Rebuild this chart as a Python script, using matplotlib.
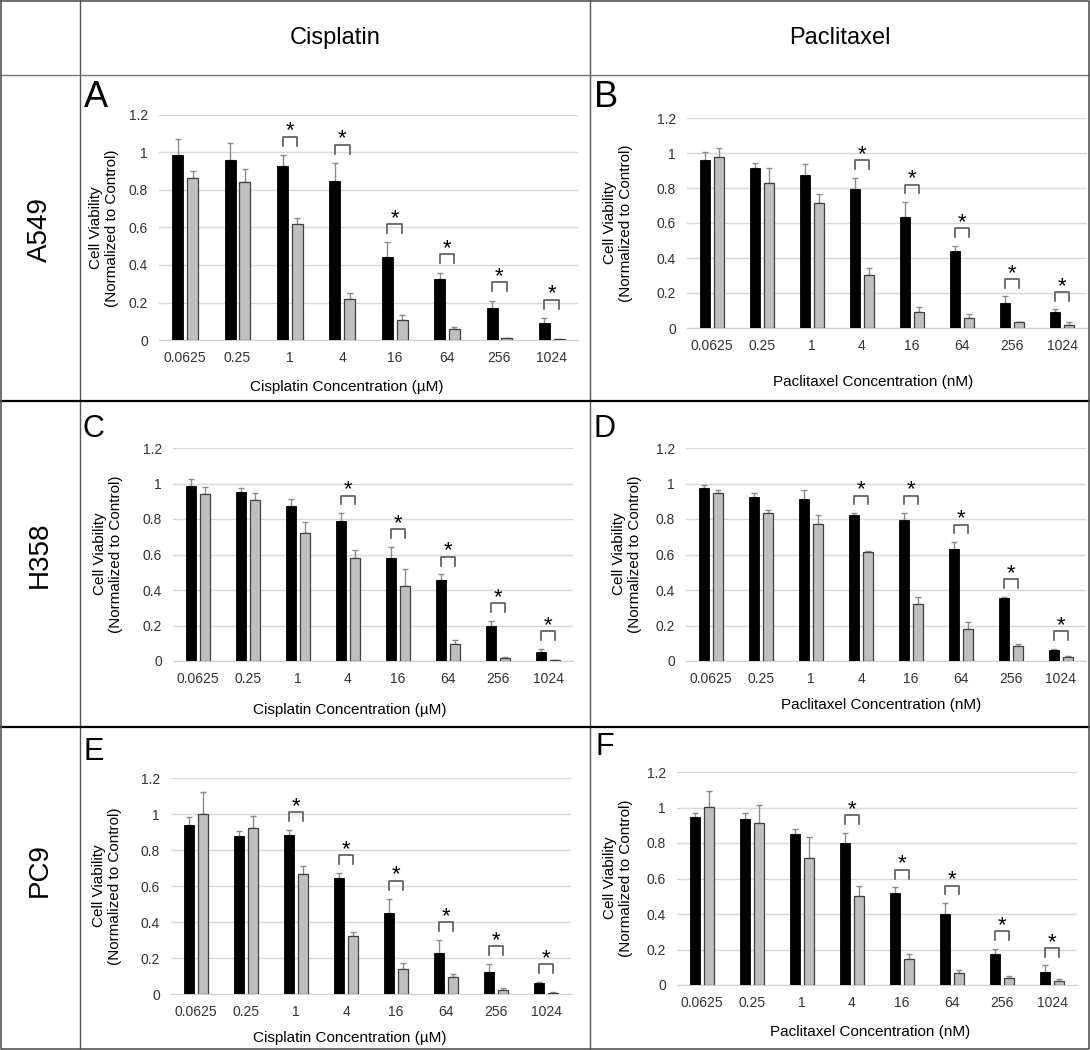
import numpy as np
import matplotlib
matplotlib.use('Agg')
import matplotlib.pyplot as plt

plt.rcParams['font.family'] = ['Liberation Sans', 'DejaVu Sans']

# концентрации
conc = ['0.0625', '0.25', '1', '4', '16', '64', '256', '1024']
ytick_labels = ['0', '0.2', '0.4', '0.6', '0.8', '1', '1.2']

# A549 - cisplatin (A)
a_black = [0.987, 0.96, 0.928, 0.85, 0.444, 0.325, 0.172, 0.092]
a_black_sd = [0.083, 0.09, 0.057, 0.092, 0.076, 0.035, 0.038, 0.024]
a_grey = [0.862, 0.84, 0.617, 0.217, 0.107, 0.057, 0.009, 0.004]
a_grey_sd = [0.038, 0.07, 0.033, 0.032, 0.026, 0.011, 0.003, 0.001]
a_sig = [2, 3, 4, 5, 6, 7]

# A549 - paclitaxel (B)
b_black = [0.96, 0.914, 0.874, 0.796, 0.632, 0.442, 0.145, 0.09]
b_black_sd = [0.047, 0.031, 0.061, 0.063, 0.088, 0.028, 0.036, 0.017]
b_grey = [0.979, 0.83, 0.716, 0.303, 0.09, 0.055, 0.032, 0.015]
b_grey_sd = [0.048, 0.086, 0.048, 0.038, 0.032, 0.023, 0.004, 0.017]
b_sig = [3, 4, 5, 6, 7]

# H358 - cisplatin (C)
c_black = [0.988, 0.954, 0.875, 0.787, 0.582, 0.455, 0.199, 0.052]
c_black_sd = [0.039, 0.019, 0.036, 0.045, 0.062, 0.033, 0.025, 0.016]
c_grey = [0.939, 0.907, 0.723, 0.582, 0.425, 0.096, 0.017, 0.004]
c_grey_sd = [0.039, 0.038, 0.058, 0.043, 0.091, 0.022, 0.003, 0.001]
c_sig = [3, 4, 5, 6, 7]

# H358 - paclitaxel (D)
d_black = [0.973, 0.925, 0.914, 0.822, 0.792, 0.631, 0.353, 0.062]
d_black_sd = [0.019, 0.02, 0.049, 0.01, 0.04, 0.038, 0.009, 0.008]
d_grey = [0.945, 0.832, 0.772, 0.612, 0.323, 0.18, 0.086, 0.02]
d_grey_sd = [0.018, 0.019, 0.05, 0.009, 0.039, 0.038, 0.007, 0.01]
d_sig = [3, 4, 5, 6, 7]

# PC9 - cisplatin (E)
e_black = [0.939, 0.878, 0.881, 0.643, 0.448, 0.23, 0.12, 0.06]
e_black_sd = [0.042, 0.028, 0.03, 0.027, 0.082, 0.07, 0.045, 0.008]
e_grey = [0.998, 0.924, 0.665, 0.32, 0.14, 0.095, 0.025, 0.008]
e_grey_sd = [0.126, 0.065, 0.046, 0.025, 0.03, 0.015, 0.006, 0.003]
e_sig = [2, 3, 4, 5, 6, 7]

# PC9 - paclitaxel (F)
f_black = [0.948, 0.934, 0.851, 0.802, 0.52, 0.40, 0.175, 0.075]
f_black_sd = [0.019, 0.033, 0.03, 0.056, 0.03, 0.06, 0.03, 0.035]
f_grey = [1.001, 0.911, 0.714, 0.50, 0.145, 0.07, 0.04, 0.025]
f_grey_sd = [0.094, 0.101, 0.121, 0.06, 0.03, 0.015, 0.01, 0.01]
f_sig = [3, 4, 5, 6, 7]

W, H = 1090, 1050
fig = plt.figure(figsize=(W / 100, H / 100), dpi=100)

# фон с таблицей (координаты в пикселях)
bg = fig.add_axes([0, 0, 1, 1], zorder=0)
bg.set_xlim(0, W)
bg.set_ylim(H, 0)
bg.axis('off')

bg.plot([80, 80], [0, H], color='#555555', lw=1)
bg.plot([590, 590], [0, H], color='#555555', lw=1)
bg.plot([0, W], [75, 75], color='#777777', lw=1)
bg.plot([0, W], [401, 401], color='black', lw=1.6)
bg.plot([0, W], [727, 727], color='black', lw=1.6)
bg.plot([1, W - 1, W - 1, 1, 1], [1, 1, H - 1, H - 1, 1], color='#555555', lw=1.2)

bg.text(335, 38, 'Cisplatin', fontsize=17, ha='center', va='center')
bg.text(840, 38, 'Paclitaxel', fontsize=17, ha='center', va='center')

bg.text(40, 230, 'A549', fontsize=20, rotation=90, ha='center', va='center')
bg.text(40, 555, 'H358', fontsize=20, rotation=90, ha='center', va='center')
bg.text(40, 870, 'PC9', fontsize=20, rotation=90, ha='center', va='center')


def panel(box, black, black_sd, grey, grey_sd, sig, xlabel, letter, letter_pos, ylab_pos, xlab_pos):
    x0, x1, y0, y1 = box
    ax = fig.add_axes([x0 / W, 1 - y1 / H, (x1 - x0) / W, (y1 - y0) / H], zorder=1)
    ax.patch.set_alpha(0)
    x = np.arange(len(conc))
    zeros = np.zeros(len(conc))

    ax.errorbar(x - 0.14, black, yerr=[zeros, black_sd], fmt='none', ecolor='#8c8c8c',
                elinewidth=1, capsize=2.5, capthick=1, zorder=2)
    ax.errorbar(x + 0.14, grey, yerr=[zeros, grey_sd], fmt='none', ecolor='#8c8c8c',
                elinewidth=1, capsize=2.5, capthick=1, zorder=2)
    ax.bar(x - 0.14, black, 0.21, color='black', edgecolor='black', lw=0.6, zorder=3)
    ax.bar(x + 0.14, grey, 0.21, color='#bfbfbf', edgecolor='#404040', lw=0.9, zorder=3)

    # скобки значимости
    for i in sig:
        top = max(black[i] + black_sd[i], grey[i] + grey_sd[i]) + 0.1
        ax.plot([i - 0.14, i - 0.14, i + 0.14, i + 0.14], [top - 0.05, top, top, top - 0.05],
                color='#595959', lw=1.2, clip_on=False, zorder=4)
        ax.text(i, top + 0.0, '*', ha='center', va='baseline', fontsize=16, zorder=4)

    ax.set_xlim(-0.5, 7.5)
    ax.set_ylim(0, 1.2)
    ax.set_yticks(np.arange(0, 1.21, 0.2))
    ax.set_yticklabels(ytick_labels)
    ax.set_xticks(x)
    ax.set_xticklabels(conc)
    ax.tick_params(length=0, labelsize=10, labelcolor='#333333', pad=8)
    ax.yaxis.grid(True, color='#d9d9d9', lw=1)
    ax.set_axisbelow(True)
    for s in ['top', 'left', 'right']:
        ax.spines[s].set_visible(False)
    ax.spines['bottom'].set_color('#d0d0d0')

    bg.text(letter_pos[0], letter_pos[1], letter, fontsize=letter_pos[2], ha='left', va='baseline')
    bg.text(ylab_pos[0], ylab_pos[1], 'Cell Viability\n(Normalized to Control)', fontsize=11,
            rotation=90, ha='center', va='center', multialignment='center')
    bg.text(xlab_pos[0], xlab_pos[1], xlabel, fontsize=11, ha='center', va='center')


cis_label = 'Cisplatin Concentration (µM)'
pac_label = 'Paclitaxel Concentration (nM)'

panel((159, 578, 115, 340), a_black, a_black_sd, a_grey, a_grey_sd, a_sig, cis_label,
      'A', (84, 107, 26), (104, 228), (347, 387))
panel((687, 1087, 118, 328), b_black, b_black_sd, b_grey, b_grey_sd, b_sig, pac_label,
      'B', (594, 107, 26), (618, 223), (873, 382))
panel((173, 573, 448, 661), c_black, c_black_sd, c_grey, c_grey_sd, c_sig, cis_label,
      'C', (83, 437, 22), (108, 554), (350, 710))
panel((686, 1086, 448, 661), d_black, d_black_sd, d_grey, d_grey_sd, d_sig, pac_label,
      'D', (594, 437, 22), (627, 554), (881, 705))
panel((171, 571, 778, 994), e_black, e_black_sd, e_grey, e_grey_sd, e_sig, cis_label,
      'E', (83, 760, 22), (107, 886), (350, 1038))
panel((677, 1077, 772, 985), f_black, f_black_sd, f_grey, f_grey_sd, f_sig, pac_label,
      'F', (596, 755, 22), (618, 878), (870, 1032))

plt.savefig('out.png', dpi=100)
